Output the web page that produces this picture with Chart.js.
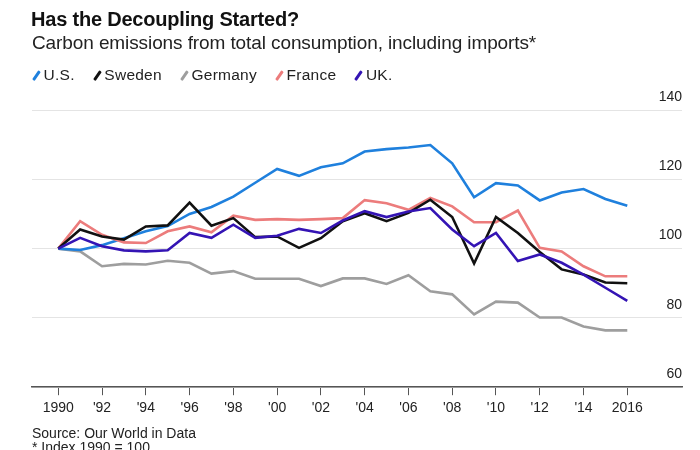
<!DOCTYPE html>
<html>
<head>
<meta charset="utf-8">
<script src="https://cdn.jsdelivr.net/npm/chart.js@4"></script>
<style>
    html, body { margin: 0; padding: 0; background: #fff; }
    body { width: 700px; height: 450px; position: relative; overflow: hidden;
           font-family: "Liberation Sans", Arial, sans-serif; color: #111; }
    #chartBox { position: absolute; left: 0; top: 0; width: 700px; height: 450px; }
    .title { position: absolute; left: 31px; top: 8px; font-size: 20px; font-weight: bold; letter-spacing: -0.2px; }
    .subtitle { position: absolute; left: 32px; top: 32px; font-size: 19px; color: #222; letter-spacing: -0.1px; }
    .legend { position: absolute; left: 31px; top: 66px; font-size: 15.5px; color: #222; display: flex; letter-spacing: 0.25px; }
    .legend span.item { margin-right: 17px; display: flex; align-items: center; }
    .legend i { display: inline-block; width: 2.6px; height: 11px; margin: 0 6px 0 4px; transform: rotate(35deg); border-radius: 1px; }
    .source { position: absolute; left: 32px; top: 426px; font-size: 14px; color: #222; line-height: 14px; }
</style>
</head>
<body>
<div id="chartBox"><canvas id="emissionsChart"></canvas></div>
<div class="title">Has the Decoupling Started?</div>
<div class="subtitle">Carbon emissions from total consumption, including imports*</div>
<div class="legend" id="legend"></div>
<div class="source">Source: Our World in Data<br>* Index 1990 = 100</div>

<script>
const years = [1990, 1991, 1992, 1993, 1994, 1995, 1996, 1997, 1998, 1999, 2000, 2001, 2002, 2003,
    2004, 2005, 2006, 2007, 2008, 2009, 2010, 2011, 2012, 2013, 2014, 2015, 2016];

const us = [100, 99.6, 101, 103, 105, 106.5, 110, 112, 115, 119, 123, 121, 123.5, 124.6,
    128, 128.7, 129.2, 129.9, 124.6, 114.8, 118.9, 118.2, 113.9, 116.2, 117.2, 114.3, 112.4];
const sweden = [100, 105.5, 103.5, 102.6, 106.4, 106.7, 113.3, 106.6, 108.8, 103.3, 103.5, 100.2, 103, 107.9,
    110.2, 107.9, 110.3, 114.1, 109.1, 95.7, 109.1, 104.5, 99, 94, 92.5, 90.2, 90];
const germany = [100, 99.2, 94.9, 95.6, 95.4, 96.5, 95.9, 92.8, 93.5, 91.3, 91.3, 91.3, 89.2, 91.4,
    91.4, 89.8, 92.3, 87.7, 86.8, 81, 84.7, 84.4, 80.1, 80.1, 77.5, 76.4, 76.4];
const france = [100, 107.9, 104, 101.8, 101.6, 105, 106.4, 104.7, 109.5, 108.3, 108.5, 108.3, 108.5, 108.8,
    114, 113.1, 111.2, 114.6, 112.2, 107.6, 107.6, 111, 100.2, 99.2, 94.9, 92, 92];
const uk = [100, 103.1, 100.7, 99.5, 99.2, 99.5, 104.5, 103.1, 106.9, 103.1, 103.7, 105.7, 104.5, 108.1,
    110.8, 109.1, 110.7, 111.7, 105.5, 100.7, 104.5, 96.4, 98.3, 95.9, 92.5, 88.7, 84.9];

const xTickYears = [1990, 1992, 1994, 1996, 1998, 2000, 2002, 2004, 2006, 2008, 2010, 2012, 2014, 2016];
const xTickLabels = ['1990', "'92", "'94", "'96", "'98", "'00", "'02", "'04", "'06", "'08", "'10", "'12", "'14", '2016'];
const yTicks = [60, 80, 100, 120, 140];

const seriesNames = ['U.S.', 'Sweden', 'Germany', 'France', 'UK.'];
const seriesData = [us, sweden, germany, france, uk];
const seriesColors = ['#1f80dd', '#111111', '#9e9e9e', '#ec7c7c', '#3414b4'];
const drawOrder = [3, 1, 4, 2, 0];

// legend in html, slash-shaped markers
const legend = document.getElementById('legend');
seriesNames.forEach(function (name, i) {
    const item = document.createElement('span');
    item.className = 'item';
    item.innerHTML = '<i style="background:' + seriesColors[i] + '"></i>' + name;
    legend.appendChild(item);
});

const toPoints = arr => arr.map((v, i) => ({ x: years[i], y: v }));

new Chart(document.getElementById('emissionsChart'), {
    type: 'line',
    data: {
        datasets: seriesNames.map(function (name, i) {
            return {
                label: name,
                data: toPoints(seriesData[i]),
                borderColor: seriesColors[i],
                borderWidth: 2.6,
                pointRadius: 0,
                tension: 0,
                order: drawOrder[i],
            };
        }),
    },
    options: {
        responsive: true,
        maintainAspectRatio: false,
        animation: false,
        layout: {
            padding: { left: 32, right: 18, top: 110, bottom: 28 },
        },
        plugins: {
            legend: { display: false },
            tooltip: { enabled: false },
        },
        scales: {
            x: {
                type: 'linear',
                min: 1988.8,
                max: 2018.5,
                afterBuildTicks: function (scale) {
                    scale.ticks = xTickYears.map(v => ({ value: v }));
                },
                grid: {
                    drawOnChartArea: false,
                    drawTicks: true,
                    tickLength: 8,
                    color: '#555',
                    lineWidth: 1,
                },
                border: { display: true, color: '#555', width: 1.5 },
                ticks: {
                    autoSkip: false,
                    maxRotation: 0,
                    padding: 5,
                    color: '#222',
                    font: { family: '"Liberation Sans", Arial, sans-serif', size: 14 },
                    callback: function (value) {
                        const idx = xTickYears.indexOf(value);
                        return idx >= 0 ? xTickLabels[idx] : '';
                    },
                },
            },
            y: {
                position: 'right',
                min: 60,
                max: 140,
                afterBuildTicks: function (scale) {
                    scale.ticks = yTicks.map(v => ({ value: v }));
                },
                grid: {
                    color: '#e4e4e4',
                    lineWidth: 1,
                    drawTicks: false,
                },
                border: { display: false },
                ticks: {
                    mirror: true,
                    padding: 0,
                    labelOffset: -13,
                    color: '#222',
                    font: { family: '"Liberation Sans", Arial, sans-serif', size: 14 },
                },
            },
        },
    },
});
</script>
</body>
</html>
